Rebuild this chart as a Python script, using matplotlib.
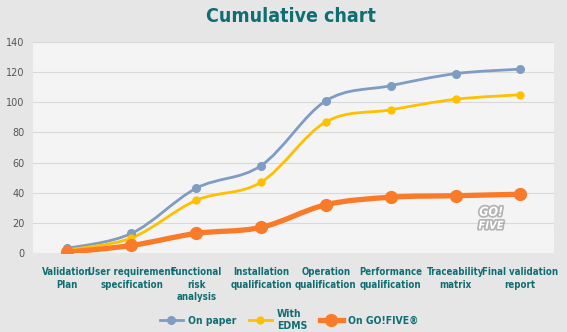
import matplotlib
matplotlib.use("Agg")
import matplotlib.pyplot as plt
import matplotlib.patheffects as pe
from matplotlib.path import Path
from matplotlib.patches import PathPatch
from matplotlib.lines import Line2D
from matplotlib import font_manager
import numpy as np

# Project phases along the x axis
phases = ['Validation\nPlan', 'User requirement\nspecification', 'Functional\nrisk\nanalysis',
          'Installation\nqualification', 'Operation\nqualification', 'Performance\nqualification',
          'Traceability\nmatrix', 'Final validation\nreport']

# Cumulative effort per phase
on_paper = [3, 13, 43, 58, 101, 111, 119, 122]
with_edms = [2, 10, 35, 47, 87, 95, 102, 105]
on_gofive = [0.5, 5, 13, 17, 32, 37, 38, 39]

TEAL = '#0f6e72'


def smooth_path(xs, ys):
    # Bezier segments with Catmull-Rom style control points (like a spreadsheet "smoothed line")
    pts = np.column_stack([xs, ys]).astype(float)
    n = len(pts)
    verts = [pts[0]]
    codes = [Path.MOVETO]
    for i in range(n - 1):
        p0 = pts[max(i - 1, 0)]
        p1 = pts[i]
        p2 = pts[i + 1]
        p3 = pts[min(i + 2, n - 1)]
        c1 = p1 + (p2 - p0) / 6
        c2 = p2 - (p3 - p1) / 6
        verts += [c1, c2, p2]
        codes += [Path.CURVE4] * 3
    return Path(verts, codes)


def font(size):
    return font_manager.FontProperties(family='DejaVu Sans', stretch='condensed',
                                       weight='bold', size=size)


fig = plt.figure(figsize=(5.67, 3.32), dpi=100, facecolor='#e6e6e6')
ax = fig.add_axes([33 / 567, 1 - 253 / 332, (554 - 33) / 567, (253 - 42) / 332])
ax.set_facecolor('#f4f4f4')

x = np.arange(len(phases))
series = [
    (on_paper, '#7f9cc2', 2.0, 5.5, 'On paper'),
    (with_edms, '#ffc000', 2.0, 5.0, 'With\nEDMS'),
    (on_gofive, '#f97b2a', 3.8, 8.5, 'On GO!FIVE®'),
]
handles = []
for vals, col, lw, ms, lab in series:
    ax.add_patch(PathPatch(smooth_path(x, vals), facecolor='none', edgecolor=col,
                           lw=lw, capstyle='round', joinstyle='round', zorder=3))
    ax.plot(x, vals, 'o', color=col, ms=ms, mec=col, zorder=4)
    handles.append(Line2D([], [], color=col, lw=lw, marker='o', ms=ms, label=lab))

ax.set_xlim(-0.52, len(phases) - 0.48)
ax.set_ylim(0, 140)
ax.set_yticks(range(0, 141, 20))
ax.grid(axis='y', color='#d9d9d9', lw=0.8)
ax.set_axisbelow(True)
for s in ax.spines.values():
    s.set_visible(False)
ax.tick_params(length=0)
ax.tick_params(axis='y', labelsize=7, labelcolor='#555555', pad=6)

ax.set_xticks(x)
ax.set_xticklabels(phases, color=TEAL, linespacing=1.35, fontproperties=font(6.9))
ax.tick_params(axis='x', pad=10)

for txt, yv, sz in [('GO!', 27, 9), ('FIVE', 18, 8)]:
    ax.text(6.55, yv, txt, ha='center', va='center', color='white', style='italic',
            fontproperties=font(sz),
            path_effects=[pe.withStroke(linewidth=2.5, foreground='#8a8a8a', alpha=0.6)])

fig.text(291 / 567, 1 - 17 / 332, 'Cumulative chart', ha='center', va='center',
         color=TEAL, fontproperties=font(14))

leg = fig.legend(handles=handles, loc='center', bbox_to_anchor=(0.51, 1 - 320 / 332),
                 ncol=3, frameon=False, handlelength=2.2, columnspacing=1.2,
                 handletextpad=0.5, prop=font(7.5))
for t in leg.get_texts():
    t.set_color(TEAL)

fig.savefig('out.png', dpi=100, facecolor=fig.get_facecolor())
